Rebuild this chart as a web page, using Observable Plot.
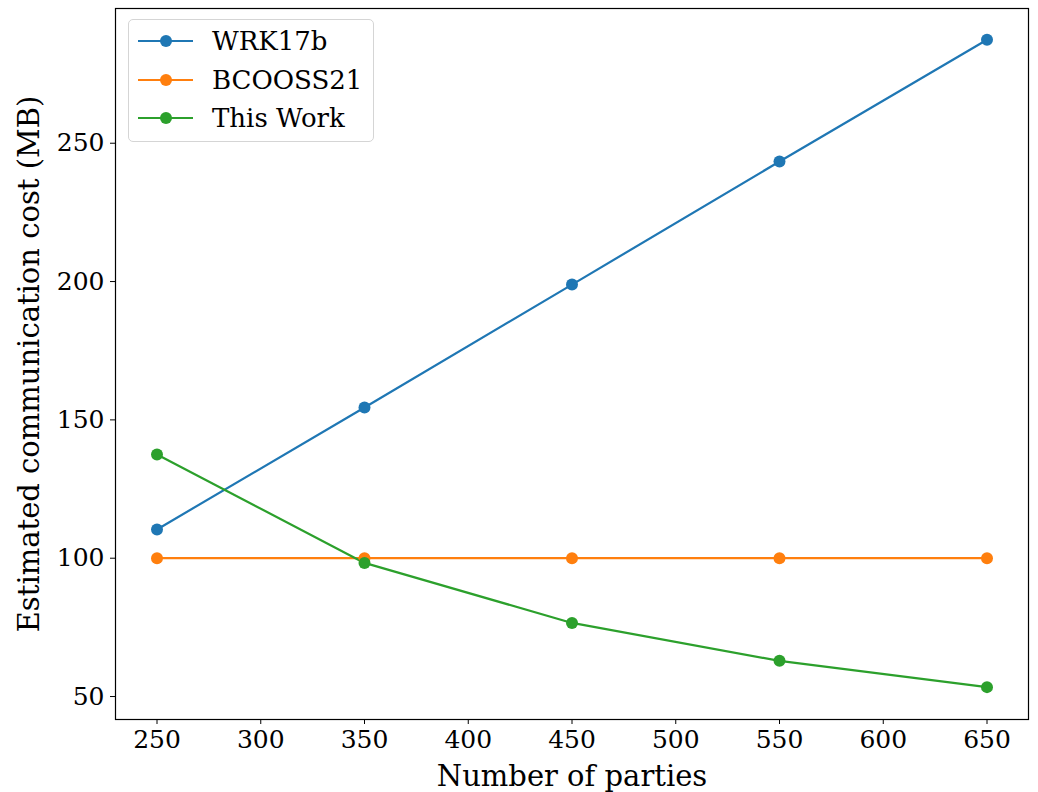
<!DOCTYPE html>
<html><head><meta charset="utf-8">
<script src="https://cdn.jsdelivr.net/npm/d3@7"></script>
<script src="https://cdn.jsdelivr.net/npm/@observablehq/plot@0.6"></script>
<style>
body{margin:0;background:#fff}
#wrap{position:relative;width:1038px;height:792px;font-family:"DejaVu Serif",serif}
#legend{position:absolute;left:128px;top:19px;width:246px;height:123px;border:1.5px solid #d5d5d5;border-radius:5px;background:rgba(255,255,255,0.8);box-sizing:border-box}
.item{position:absolute;left:0;height:30px}
.sw{position:absolute;left:9px;width:55px;height:2.2px;top:14px}
.dt{position:absolute;left:31px;width:12px;height:12px;border-radius:50%;top:9px}
.lb{position:absolute;left:83px;top:0;font-size:26px;line-height:30px;white-space:nowrap;color:#000}
</style>
</head><body><div id="wrap"><div id="legend"></div></div>
<script>
const parties = [250, 350, 450, 550, 650];
const wrk17b = [110.4, 154.5, 198.9, 243.4, 287.4];
const bcooss21 = [100, 100, 100, 100, 100];
const thisWork = [137.5, 98.3, 76.6, 62.9, 53.4];
const seriesNames = ["WRK17b", "BCOOSS21", "This Work"];
const colors = ["#1f77b4", "#ff7f0e", "#2ca02c"];
const xTicks = [250, 300, 350, 400, 450, 500, 550, 600, 650];
const yTicks = [50, 100, 150, 200, 250];

const data = [];
[wrk17b, bcooss21, thisWork].forEach((vals, i) =>
  vals.forEach((v, j) => data.push({series: seriesNames[i], x: parties[j], y: v})));

const chart = Plot.plot({
  width: 1038, height: 792,
  marginLeft: 115, marginRight: 10, marginTop: 8, marginBottom: 73,
  style: {fontFamily: "DejaVu Serif", background: "white", color: "black"},
  x: {domain: [230, 670]},
  y: {domain: [41.7, 298.7]},
  color: {domain: seriesNames, range: colors},
  marks: [
    Plot.axisX({ticks: xTicks, tickSize: 5, tickPadding: 6, fontSize: 25,
      label: "Number of parties", labelAnchor: "center", labelArrow: "none", labelOffset: 66}),
    Plot.axisY({ticks: yTicks, tickSize: 5, tickPadding: 6, fontSize: 25,
      label: "Estimated communication cost (MB)", labelAnchor: "center", labelArrow: "none", labelOffset: 97}),
    Plot.lineY(data, {x: "x", y: "y", stroke: "series", strokeWidth: 2.2}),
    Plot.dot(data, {x: "x", y: "y", fill: "series", r: 6}),
    Plot.frame({stroke: "black", strokeWidth: 1.2})
  ]
});
chart.style.position = "absolute";
chart.style.left = "0px";
chart.style.top = "0px";
const wrap = document.getElementById("wrap");
wrap.insertBefore(chart, wrap.firstChild);
chart.querySelectorAll("text").forEach(t => {
  if (t.textContent.startsWith("Number") || t.textContent.startsWith("Estimated")) t.style.fontSize = "29px";
});

const legend = document.getElementById("legend");
seriesNames.forEach((name, i) => {
  const it = document.createElement("div");
  it.className = "item";
  it.style.top = (6 + i * 38.5) + "px";
  it.innerHTML = `<span class="sw" style="background:${colors[i]}"></span><span class="dt" style="background:${colors[i]}"></span><span class="lb">${name}</span>`;
  legend.appendChild(it);
});
</script>
</body></html>
